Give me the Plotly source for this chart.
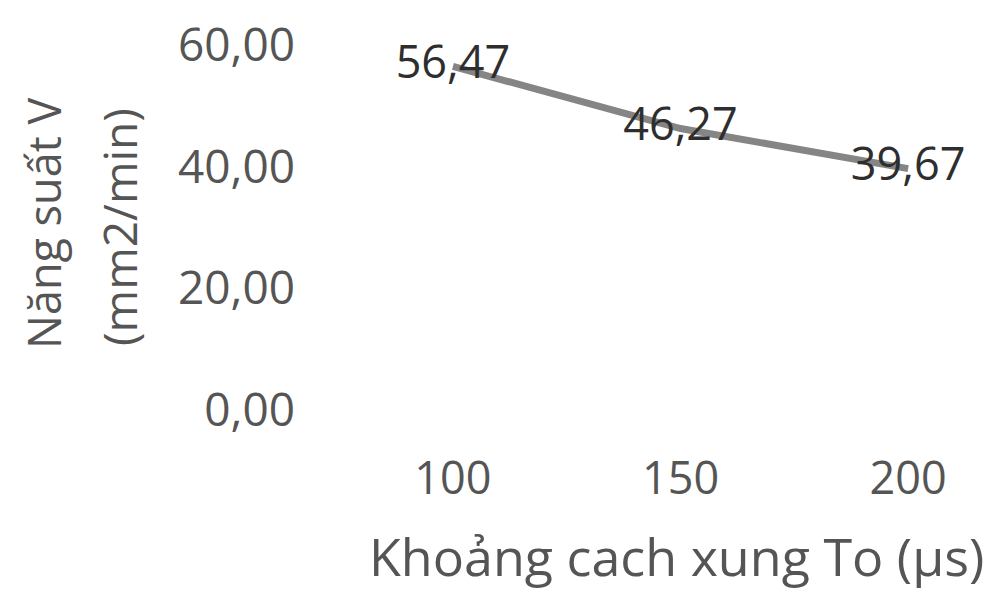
import plotly.graph_objects as go

# Pulse interval To (µs) and machining productivity V (mm2/min)
pulse_interval = [100, 150, 200]
productivity = [56.47, 46.27, 39.67]
value_labels = ["56,47", "46,27", "39,67"]
y_ticks = [0, 20, 40, 60]
y_tick_labels = ["0,00", "20,00", "40,00", "60,00"]

FONT = "Open Sans"
W, H = 991, 595
L, R, T, B = 310, 0, 45, 185
plot_w = W - L - R
plot_h = H - T - B


def px_x(p):
    return (p - L) / plot_w


def px_y(p):
    return (H - B - p) / plot_h


fig = go.Figure()
fig.add_trace(go.Scatter(
    x=pulse_interval,
    y=productivity,
    mode="lines+text",
    line=dict(color="#858585", width=7),
    text=value_labels,
    textposition="middle center",
    textfont=dict(family=FONT, size=45, color="#2e2e2e"),
    cliponaxis=False,
    showlegend=False,
))

fig.update_layout(
    width=W,
    height=H,
    margin=dict(l=L, r=R, t=T, b=B),
    paper_bgcolor="white",
    plot_bgcolor="white",
    font=dict(family=FONT, size=44, color="#555555"),
    xaxis=dict(
        range=[68.6, 218.2],
        tickmode="array",
        tickvals=pulse_interval,
        ticktext=[str(v) for v in pulse_interval],
        showgrid=False,
        zeroline=False,
        showline=False,
        ticks="",
        ticklabelstandoff=38,
        tickfont=dict(family=FONT, size=45, color="#555555"),
    ),
    yaxis=dict(
        range=[0, 60],
        tickmode="array",
        tickvals=y_ticks,
        ticktext=y_tick_labels,
        showgrid=False,
        zeroline=False,
        showline=False,
        ticks="",
        ticklabelstandoff=14,
        tickfont=dict(family=FONT, size=46, color="#555555"),
    ),
    annotations=[
        dict(text="Năng suất V", x=px_x(43), y=px_y(224), xref="paper", yref="paper",
             textangle=-90, showarrow=False, xanchor="center", yanchor="middle",
             font=dict(family=FONT, size=45, color="#555555")),
        dict(text="(mm2/min)", x=px_x(119), y=px_y(227), xref="paper", yref="paper",
             textangle=-90, showarrow=False, xanchor="center", yanchor="middle",
             font=dict(family=FONT, size=46, color="#555555")),
        dict(text="Khoảng cach xung To (µs)", x=px_x(676), y=px_y(555),
             xref="paper", yref="paper", showarrow=False,
             xanchor="center", yanchor="middle",
             font=dict(family=FONT, size=52, color="#555555")),
    ],
)

fig.write_html("out.html")
